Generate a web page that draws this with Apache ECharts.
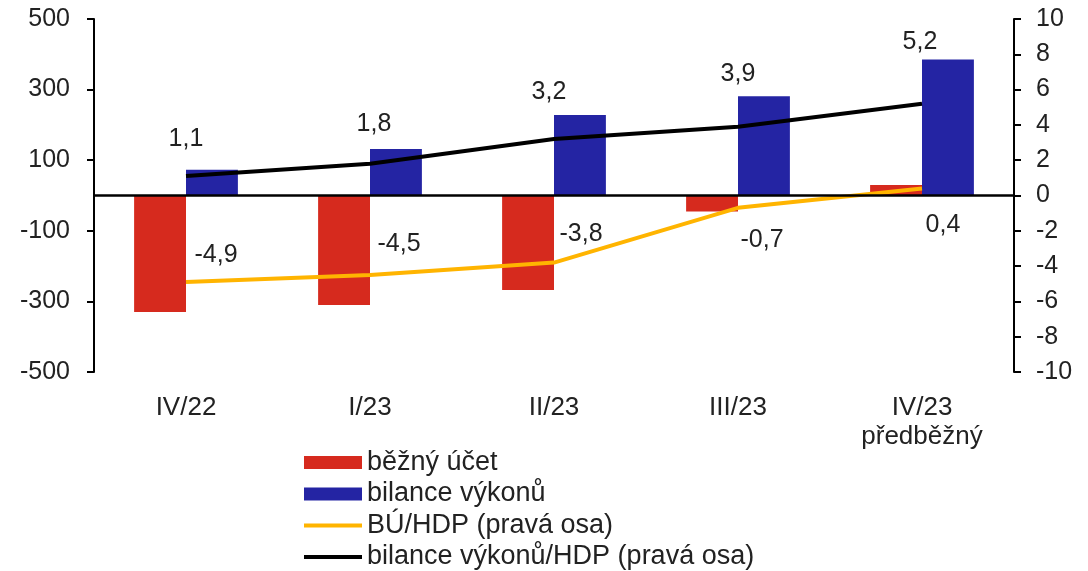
<!DOCTYPE html>
<html>
<head>
<meta charset="utf-8">
<script src="https://cdn.jsdelivr.net/npm/echarts@6/dist/echarts.min.js"></script>
<style>
  html, body { margin: 0; padding: 0; background: #fff; }
  #main { width: 1088px; height: 571px; }
</style>
</head>
<body>
<div id="main"></div>
<script>
// data
const categories = ["IV/22", "I/23", "II/23", "III/23", "IV/23\npředběžný"]
const currentAccount = [-330, -310, -268, -45, 30]       // běžný účet
const servicesBalance = [73, 132, 228, 281, 385]         // bilance výkonů
const caToGdp = [-4.9, -4.5, -3.8, -0.7, 0.4]            // BÚ/HDP
const servicesToGdp = [1.1, 1.8, 3.2, 3.9, 5.2]          // bilance výkonů/HDP
const leftAxis = { min: -500, max: 500, interval: 200 }
const rightAxis = { min: -10, max: 10, interval: 2 }

// label nudges (px, relative to the point)
const caLabelShift = [[30, -27], [29, -31], [27, -28], [24, 32], [21, 37]]
const svcLabelShift = [[0, -37], [4, -40], [-5, -47], [0, -53], [-2, -62]]

const font = "'Liberation Sans', Arial, sans-serif"
const txt = "#222"
const fmt = (v) => v.toFixed(1).replace(".", ",")
const lineIcon = "path://M0,0H58V4H0Z"

const myE = echarts.init(document.getElementById("main"))

const axisCommon = {
  type: "value",
  splitLine: { show: false },
  axisLine: { show: true, lineStyle: { color: "#000", width: 2 } },
  axisTick: { show: true, length: 7, lineStyle: { color: "#000", width: 2 } },
}

const lineLabel = (shift) => ({
  show: true,
  position: "inside",
  offset: shift,
  fontFamily: font,
  fontSize: 25,
  color: txt,
  formatter: (p) => fmt(p.value),
})

let option = {
  animation: false,
  textStyle: { fontFamily: font },
  grid: { left: 94, right: 74, top: 19, bottom: 199 },
  legend: {
    orient: "vertical",
    left: 304,
    top: 449,
    height: 130,
    padding: 0,
    itemWidth: 58,
    itemHeight: 13,
    itemGap: 4.5,
    textStyle: { fontFamily: font, fontSize: 27, lineHeight: 25, color: txt },
    data: [
      { name: "běžný účet", icon: "rect" },
      { name: "bilance výkonů", icon: "rect" },
      { name: "BÚ/HDP (pravá osa)", icon: lineIcon },
      { name: "bilance výkonů/HDP (pravá osa)", icon: lineIcon },
    ],
  },
  xAxis: {
    type: "category",
    data: categories,
    axisLine: { show: false },
    axisTick: { show: false },
    axisLabel: { margin: 21, fontSize: 26, lineHeight: 29, color: txt, fontFamily: font },
  },
  yAxis: [
    {
      ...axisCommon,
      ...leftAxis,
      position: "left",
      axisLabel: { margin: 24, fontSize: 25, color: txt, fontFamily: font },
    },
    {
      ...axisCommon,
      ...rightAxis,
      position: "right",
      axisLabel: { margin: 22, fontSize: 25, color: txt, fontFamily: font },
    },
  ],
  series: [
    {
      name: "běžný účet",
      type: "bar",
      data: currentAccount,
      barWidth: "28.2%",
      barGap: "0%",
      itemStyle: { color: "#D62A1E" },
      markLine: {
        silent: true,
        symbol: "none",
        label: { show: false },
        lineStyle: { color: "#000", width: 2.5, type: "solid" },
        data: [{ yAxis: 0 }],
      },
    },
    {
      name: "bilance výkonů",
      type: "bar",
      data: servicesBalance,
      barWidth: "28.2%",
      barGap: "0%",
      itemStyle: { color: "#2424A3" },
    },
    {
      name: "BÚ/HDP (pravá osa)",
      type: "line",
      yAxisIndex: 1,
      symbol: "circle",
      symbolSize: 0.01,
      itemStyle: { color: "#FFB400" },
      lineStyle: { color: "#FFB400", width: 4 },
      data: caToGdp.map((v, i) => ({ value: v, label: lineLabel(caLabelShift[i]) })),
    },
    {
      name: "bilance výkonů/HDP (pravá osa)",
      type: "line",
      yAxisIndex: 1,
      symbol: "circle",
      symbolSize: 0.01,
      itemStyle: { color: "#000" },
      lineStyle: { color: "#000", width: 4 },
      data: servicesToGdp.map((v, i) => ({ value: v, label: lineLabel(svcLabelShift[i]) })),
    },
  ],
}
myE.setOption(option)
window.addEventListener("resize", () => {
  myE.resize()
})
</script>
</body>
</html>
